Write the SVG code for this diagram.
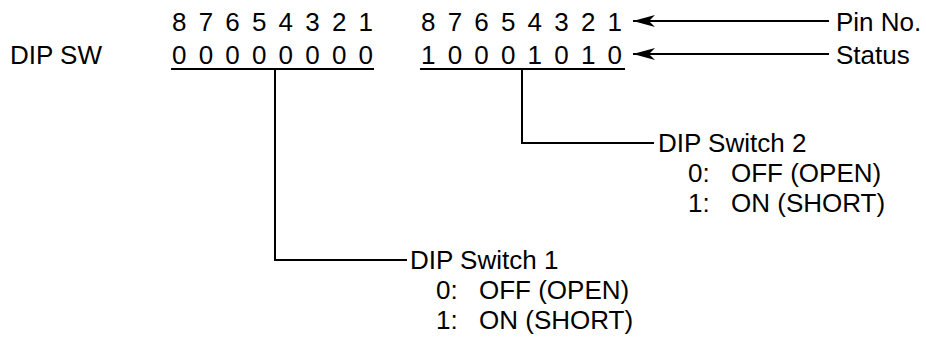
<svg xmlns="http://www.w3.org/2000/svg" width="926" height="338" viewBox="0 0 926 338">
<style>
text{font-family:"Liberation Sans",Arial,sans-serif;font-size:26px;fill:#000}
.ln{stroke:#000;stroke-width:2;fill:none}
</style>
<defs>
<marker id="ah" markerUnits="userSpaceOnUse" markerWidth="24" markerHeight="14" refX="22" refY="7" orient="auto" viewBox="0 0 24 14">
<path d="M22,7 L0,1 L6,7 L0,13 Z" fill="#000"/>
</marker>
</defs>
<rect width="926" height="338" fill="#fff"/>
<g id="dipsw-label"><text x="10" y="64">DIP SW</text></g>
<g id="sw1-pins"><text x="172" y="31" textLength="201" lengthAdjust="spacing">8 7 6 5 4 3 2 1</text></g>
<g id="sw1-status"><text x="172" y="64" textLength="201" lengthAdjust="spacing">0 0 0 0 0 0 0 0</text><line class="ln" x1="171" y1="69" x2="374" y2="69"/></g>
<g id="sw2-pins"><text x="421" y="31" textLength="201" lengthAdjust="spacing">8 7 6 5 4 3 2 1</text></g>
<g id="sw2-status"><text x="421" y="64" textLength="201" lengthAdjust="spacing">1 0 0 0 1 0 1 0</text><line class="ln" x1="420" y1="69" x2="625" y2="69"/></g>
<g id="pin-label"><text x="836" y="31">Pin No.</text></g>
<g id="status-label"><text x="836" y="64">Status</text></g>
<g id="sw2-desc"><text x="658" y="152">DIP Switch 2</text><text x="688" y="182">0:</text><text x="731" y="182">OFF (OPEN)</text><text x="688" y="212">1:</text><text x="731" y="212">ON (SHORT)</text></g>
<g id="sw1-desc"><text x="410" y="269">DIP Switch 1</text><text x="436" y="299">0:</text><text x="479" y="299">OFF (OPEN)</text><text x="436" y="329">1:</text><text x="479" y="329">ON (SHORT)</text></g>
<g id="connectors">
<path class="ln" d="M829,21 H633" marker-end="url(#ah)"/>
<path class="ln" d="M829,54 H633" marker-end="url(#ah)"/>
<path class="ln" d="M522,69 V143 H654"/>
<path class="ln" d="M275,69 V260 H407"/>
</g>
</svg>
